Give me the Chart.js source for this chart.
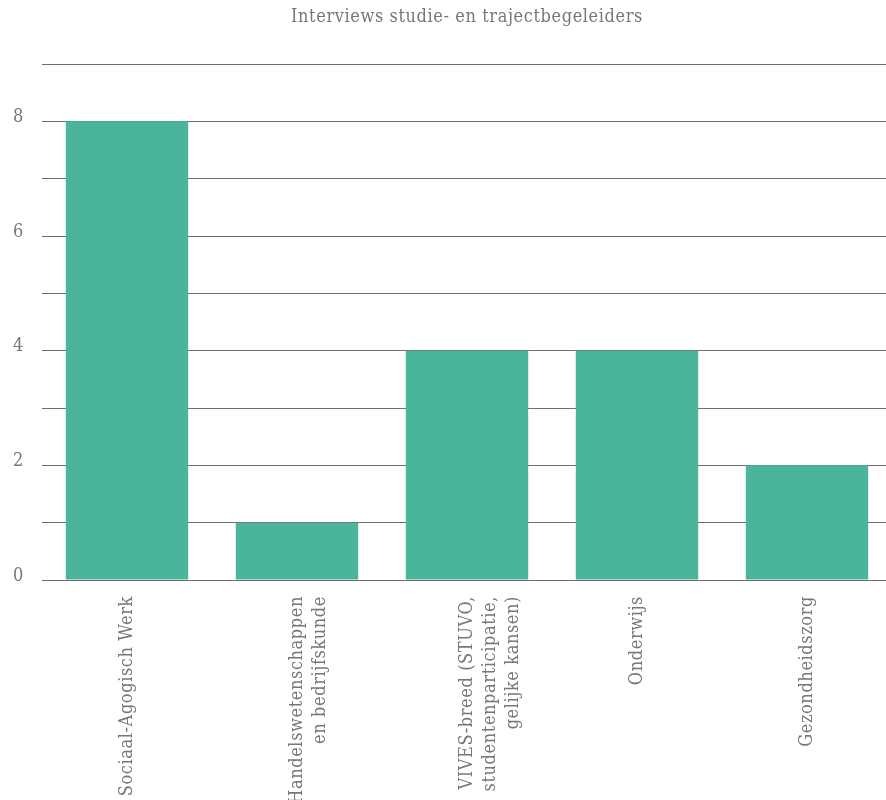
<!DOCTYPE html>
<html>
<head>
<meta charset="utf-8">
<script src="https://cdn.jsdelivr.net/npm/chart.js@4"></script>
<style>
  html, body { margin: 0; padding: 0; overflow: hidden; background: #fff; }
  #wrap { width: 892px; height: 800px; }
</style>
</head>
<body>
<div id="wrap"><canvas id="chart"></canvas></div>
<script>
// ─── Data ───────────────────────────────────────────────
const categories = [
  'Sociaal-Agogisch Werk',
  ['Handelswetenschappen', 'en bedrijfskunde'],
  ['VIVES-breed (STUVO,', 'studentenparticipatie,', 'gelijke kansen)'],
  'Onderwijs',
  'Gezondheidszorg'
];
const interviews = [8, 1, 4, 4, 2];
const yTickLabels = ['0', '', '2', '', '4', '', '6', '', '8', ''];

const textGray = '#777777';
const gridGray = '#6f6f6f';
const fontFamily = '"DejaVu Serif Condensed", "DejaVu Serif", serif';

// letter spacing like the original slab type
const spacingPlugin = {
  id: 'spacing',
  beforeDraw(chart) { chart.ctx.letterSpacing = '0.6px'; }
};

new Chart(document.getElementById('chart'), {
  type: 'bar',
  data: {
    labels: categories,
    datasets: [{
      label: 'Interviews',
      data: interviews,
      backgroundColor: '#4bb59b',
      borderWidth: 0,
      barPercentage: 0.72,
      categoryPercentage: 1
    }]
  },
  options: {
    responsive: true,
    maintainAspectRatio: false,
    animation: false,
    layout: { padding: { left: 12, right: 0, top: 0, bottom: 0 } },
    plugins: {
      legend: { display: false },
      tooltip: { enabled: false },
      title: {
        display: true,
        fullSize: false,
        text: 'Interviews studie- en trajectbegeleiders',
        color: textGray,
        font: { family: fontFamily, size: 18, weight: 'normal', lineHeight: 1.2 },
        padding: { top: 7, bottom: 35.4 }
      }
    },
    scales: {
      x: {
        grid: { display: false, drawTicks: false },
        border: { display: false },
        ticks: {
          color: textGray,
          font: { family: fontFamily, size: 18, lineHeight: 1.3 },
          minRotation: 90,
          maxRotation: 90,
          autoSkip: false,
          padding: 16
        },
        afterFit(scale) { scale.height = 220; }
      },
      y: {
        min: 0,
        max: 9,
        grid: { color: gridGray, lineWidth: 1, drawTicks: false },
        border: { display: false },
        ticks: {
          stepSize: 1,
          color: textGray,
          font: { family: fontFamily, size: 18 },
          padding: 18,
          labelOffset: -4,
          callback: (v) => yTickLabels[v] ?? ''
        },
        afterFit(scale) { scale.width = 30; }
      }
    }
  },
  plugins: [spacingPlugin]
});
</script>
</body>
</html>
